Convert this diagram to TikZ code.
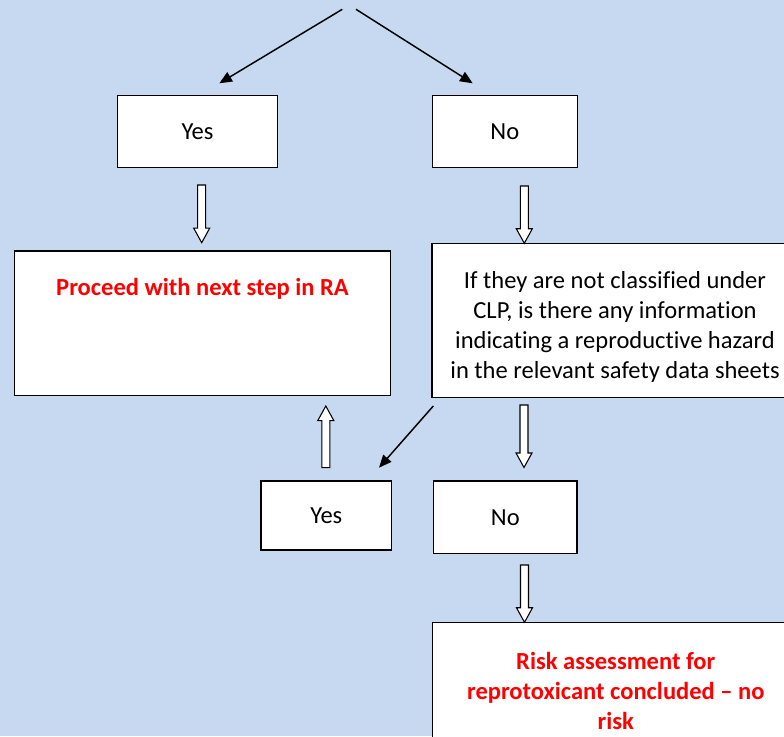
\documentclass[tikz,border=0pt]{standalone}
\usepackage{fontspec}
\setmainfont{Carlito}[Ligatures={TeX,NoCommon}]
\usetikzlibrary{arrows.meta,calc}
\definecolor{bgblue}{RGB}{198,217,240}
\tikzset{
  box/.style={draw,line width=1.1pt,fill=white,inner sep=0pt},
  plaintxt/.style={font=\fontsize{18.4}{22.5}\selectfont,align=center},
  redtxt/.style={plaintxt,text=red,font=\bfseries\fontsize{18.4}{22.5}\selectfont},
  answer/.style={box,plaintxt,text height=11.9pt,text depth=0pt},
  hollow/.style={draw,fill=white,line width=0.8pt,line join=miter},
  thinarrow/.style={line width=1.1pt,-{Triangle[length=9.5pt,width=8pt]}}
}
% hollow block arrow from #1 to #2
\newcommand{\hollowarrow}[2]{%
  \path (#1) coordinate (ha) (#2) coordinate (hb) ($(hb)!10.9pt!(ha)$) coordinate (hc);
  \draw[hollow] ($(ha)!3pt!90:(hb)$)--($(hc)!3pt!90:(hb)$)--($(hc)!6pt!90:(hb)$)--(hb)
    --($(hc)!6pt!-90:(hb)$)--($(hc)!3pt!-90:(hb)$)--($(ha)!3pt!-90:(hb)$)--cycle;}
\begin{document}
\begin{tikzpicture}[x=0.75pt,y=-0.75pt]
\fill[bgblue](0,0)rectangle(784,736);
\useasboundingbox(0,0)rectangle(784,736);
\clip(0,0)rectangle(784,736);
% first answer
\coordinate (qleft) at (342.3,9.3);
\coordinate (qright) at (356,9.3);
\coordinate (yestip) at (219.3,83.3);
\coordinate (notip) at (472.7,83.3);
\draw[thinarrow](qleft)--(yestip);
\draw[thinarrow](qright)--(notip);
\node[answer,minimum width=120.3pt,minimum height=54.3pt] (yes1) at (197.5,131.5) {Yes};
\node[answer,minimum width=108.8pt,minimum height=54.3pt] (no1) at (504.8,131.5) {No};
% next steps
\node[box,minimum width=282.3pt,minimum height=108.5pt] (proceed) at (202.5,323.4) {};
\node[redtxt] (proceedtxt) at (202.5,289) {Proceed with next step in RA};
\node[box,minimum width=274.7pt,minimum height=115.8pt] (info) at (614.9,320.5) {};
\node[plaintxt] (infotxt) at (615,326.5) {If they are not classified under\\CLP, is there any information\\indicating a reproductive hazard\\in the relevant safety data sheets};
\coordinate (ya) at (201.7,185);
\coordinate (yb) at (201.7,242.7);
\coordinate (na) at (524.3,186);
\coordinate (nb) at (524.3,243.3);
\hollowarrow{ya}{yb}
\hollowarrow{na}{nb}
% second answer
\node[answer,minimum width=98pt,minimum height=51.8pt] (yes2) at (326.3,515.5) {Yes};
\node[answer,minimum width=107.5pt,minimum height=54.2pt] (no2) at (505.3,517.2) {No};
\coordinate (infofoot) at (433.3,406);
\coordinate (yes2tip) at (379,467.7);
\draw[thinarrow](infofoot)--(yes2tip);
\coordinate (ua) at (325.8,467.7);
\coordinate (ub) at (325.8,406);
\hollowarrow{ua}{ub}
\coordinate (da) at (524,405);
\coordinate (db) at (524,467.5);
\hollowarrow{da}{db}
\coordinate (ra) at (524.5,565);
\coordinate (rb) at (524.5,622.3);
\hollowarrow{ra}{rb}
% conclusion
\node[box,minimum width=274pt,minimum height=116.3pt] (risk) at (615.4,699.8) {};
\node[redtxt] (risktxt) at (615.8,691) {Risk assessment for\\reprotoxicant concluded \textendash{} no\\risk};
\end{tikzpicture}
\end{document}
